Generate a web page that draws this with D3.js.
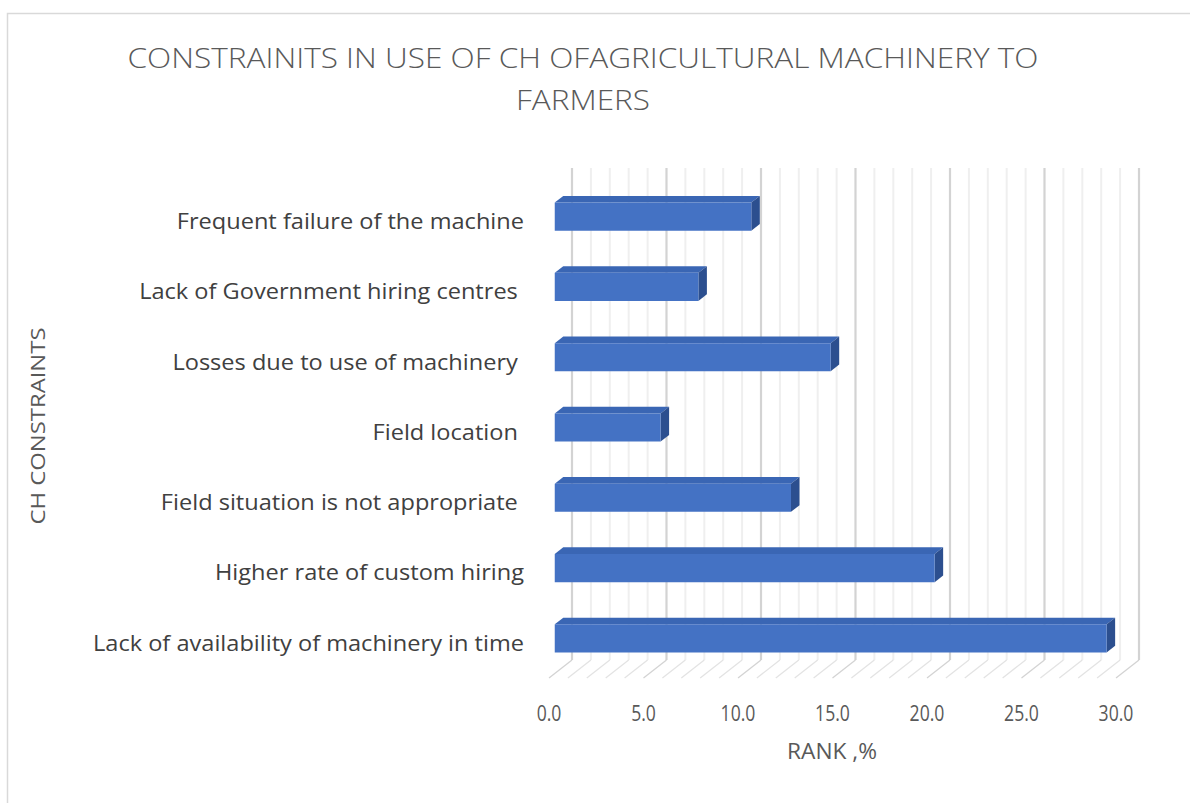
<!DOCTYPE html>
<html>
<head>
<meta charset="utf-8">
<script src="https://cdn.jsdelivr.net/npm/d3@7/dist/d3.min.js"></script>
<style>
  html, body { margin: 0; padding: 0; background: #ffffff; }
  svg { display: block; }
  text { font-family: "Open Sans", "Liberation Sans", sans-serif; }
</style>
</head>
<body>
<svg id="chart" width="1190" height="803"></svg>
<script>
// Constraints, listed from the bottom bar upwards
const categories = [
  "Lack of availability of machinery in time",
  "Higher rate of custom hiring",
  "Field situation is not appropriate ",
  "Field location ",
  "Losses due to use of machinery ",
  "Lack of Government hiring centres ",
  "Frequent failure of the machine"
];
// Share of respondents (%)
const values = [29.2, 20.1, 12.5, 5.6, 14.6, 7.6, 10.4];
const tickValues = [0, 5, 10, 15, 20, 25, 30];
const tickLabels = ["0.0", "5.0", "10.0", "15.0", "20.0", "25.0", "30.0"];
const titleLines = ["CONSTRAINITS IN USE OF CH OFAGRICULTURAL MACHINERY TO", "FARMERS"];
const xTitle = "RANK ,%";
const yTitle = "CH CONSTRAINTS";

const svg = d3.select("#chart");

// Chart frame
svg.append("rect")
  .attr("x", 7.5).attr("y", 13.5)
  .attr("width", 1200).attr("height", 1000)
  .attr("fill", "#ffffff")
  .attr("stroke", "#d9d9d9").attr("stroke-width", 1.5);

// Oblique 3-D projection: the floor recedes up and to the right
const DX = 23, DY = -18;
const x = d3.scaleLinear().domain([0, 30]).range([549, 1116]);
const y = d3.scaleBand().domain(categories.slice().reverse())
  .range([186, 678]).paddingInner(0.6).paddingOuter(0.3);
const floorY = y.range()[1];
const topY = y.range()[0];
const proj = (v, py, depth) => [x(v) + depth * DX, py + depth * DY];

const grid = svg.append("g");
const minor = d3.range(0, 31, 1);

// Back wall gridlines
grid.selectAll("line.wall").data(minor).join("line")
  .attr("class", "wall")
  .attr("x1", d => proj(d, topY, 1)[0]).attr("x2", d => proj(d, floorY, 1)[0])
  .attr("y1", d => proj(d, topY, 1)[1]).attr("y2", d => proj(d, floorY, 1)[1])
  .attr("stroke", d => d % 5 === 0 ? "#d3d3d3" : "#efefef")
  .attr("stroke-width", d => d % 5 === 0 ? 2.2 : 2);

// Floor gridlines
grid.selectAll("line.floor").data(minor).join("line")
  .attr("class", "floor")
  .attr("x1", d => proj(d, floorY, 0)[0]).attr("y1", d => proj(d, floorY, 0)[1])
  .attr("x2", d => proj(d, floorY, 1)[0]).attr("y2", d => proj(d, floorY, 1)[1])
  .attr("stroke", d => d % 5 === 0 ? "#d3d3d3" : "#e3e3e3")
  .attr("stroke-width", 1.3);

// 3-D bars
const F0 = 0.25, F1 = 0.62;
const bw = y.bandwidth();
const rows = categories.map((c, i) => ({ c, v: values[i] }));
const bars = svg.append("g").selectAll("g").data(rows).join("g");

const pts = a => a.map(p => p.join(",")).join(" ");

bars.append("polygon") // top face
  .attr("points", d => {
    const yt = y(d.c);
    return pts([proj(0, yt, F0), proj(d.v, yt, F0), proj(d.v, yt, F1), proj(0, yt, F1)]);
  })
  .attr("fill", "#3a66b4");

bars.append("polygon") // end face
  .attr("points", d => {
    const yt = y(d.c), yb = yt + bw;
    return pts([proj(d.v, yt, F0), proj(d.v, yt, F1), proj(d.v, yb, F1), proj(d.v, yb, F0)]);
  })
  .attr("fill", "#2c4f8f");

bars.append("polygon") // front face
  .attr("points", d => {
    const yt = y(d.c), yb = yt + bw;
    return pts([proj(0, yt, F0), proj(d.v, yt, F0), proj(d.v, yb, F0), proj(0, yb, F0)]);
  })
  .attr("fill", "#4472c4");

// Category labels, condensed to a Calibri-like width (trailing spaces kept)
const catText = svg.append("g").selectAll("text").data(categories).join("text")
  .attr("x", 524)
  .attr("y", d => y(d) + bw / 2)
  .attr("dy", "0.36em")
  .attr("text-anchor", "end")
  .attr("font-size", 22)
  .attr("fill", "#404040")
  .style("white-space", "pre")
  .text(d => d);
let longest = 0;
catText.each(function () { longest = Math.max(longest, this.getComputedTextLength()); });
const catScale = 431 / longest;
catText.each(function () {
  d3.select(this).attr("textLength", this.getComputedTextLength() * catScale)
    .attr("lengthAdjust", "spacingAndGlyphs");
});

// Value axis tick labels
svg.append("g").selectAll("text").data(tickValues).join("text")
  .attr("x", d => x(d))
  .attr("y", 721)
  .attr("text-anchor", "middle")
  .attr("font-size", 22)
  .attr("fill", "#595959")
  .text((d, i) => tickLabels[i])
  .each(function () {
    const w = this.getComputedTextLength();
    d3.select(this).attr("textLength", w * 0.8).attr("lengthAdjust", "spacingAndGlyphs");
  });

// Axis titles
svg.append("text")
  .attr("x", 832).attr("y", 759)
  .attr("text-anchor", "middle")
  .attr("font-size", 21)
  .attr("fill", "#595959")
  .text(xTitle)
  .attr("textLength", 90).attr("lengthAdjust", "spacingAndGlyphs");

svg.append("text")
  .attr("transform", "translate(45,426) rotate(-90)")
  .attr("text-anchor", "middle")
  .attr("font-size", 20)
  .attr("fill", "#595959")
  .text(yTitle)
  .attr("textLength", 197).attr("lengthAdjust", "spacingAndGlyphs");

// Title
svg.append("g").selectAll("text").data(titleLines).join("text")
  .attr("x", 583)
  .attr("y", (d, i) => 68 + i * 42)
  .attr("text-anchor", "middle")
  .attr("font-size", 28)
  .attr("font-weight", 300)
  .attr("fill", "#595959")
  .text(d => d)
  .each(function (d, i) {
    d3.select(this).attr("textLength", i === 0 ? 911 : 134).attr("lengthAdjust", "spacingAndGlyphs");
  });
</script>
</body>
</html>
